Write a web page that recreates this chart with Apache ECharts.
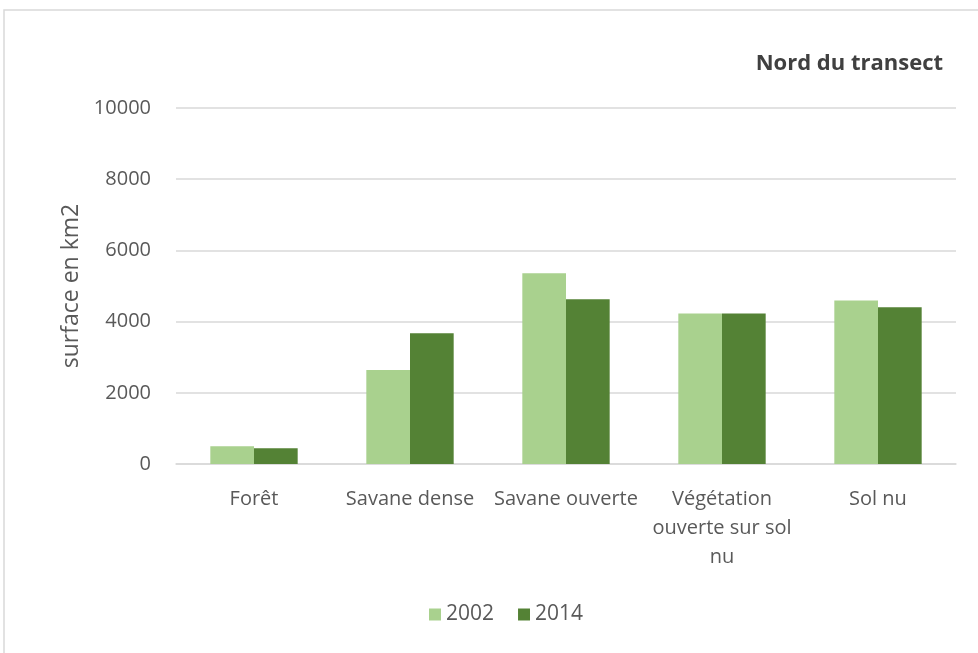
<!DOCTYPE html>
<html>
<head>
<meta charset="utf-8">
<script src="https://cdn.jsdelivr.net/npm/echarts@6/dist/echarts.min.js"></script>
<style>
  html, body { margin: 0; padding: 0; background: #fff; }
  #chart { width: 978px; height: 653px; }
</style>
</head>
<body>
<div id="chart"></div>
<script>
// categories and values (surface en km2)
const categories = ['Forêt', 'Savane dense', 'Savane ouverte', 'Végétation\nouverte sur sol\nnu', 'Sol nu']
const values2002 = [500, 2640, 5360, 4230, 4590]
const values2014 = [440, 3670, 4630, 4230, 4400]
const yTicks = { min: 0, max: 10000, interval: 2000 }

const font = '"Open Sans", "Liberation Sans", sans-serif'
const chart = echarts.init(document.getElementById('chart'))

chart.setOption({
  animation: false,
  textStyle: { fontFamily: font },
  color: ['#A9D18E', '#548235'],
  title: {
    text: 'Nord du transect',
    right: 30,
    top: 48,
    textStyle: { fontSize: 22, fontWeight: 'bold', color: '#404040', fontFamily: font }
  },
  legend: {
    data: ['2002', '2014'],
    left: 424,
    top: 599,
    itemWidth: 12,
    itemHeight: 12,
    itemGap: 24,
    icon: 'rect',
    textStyle: { fontSize: 21, color: '#595959', fontFamily: font }
  },
  grid: { left: 176, right: 22, top: 108, bottom: 189 },
  xAxis: {
    type: 'category',
    data: categories,
    axisTick: { show: false },
    axisLine: { lineStyle: { color: '#d9d9d9', width: 1.5 } },
    axisLabel: {
      interval: 0,
      margin: 21,
      fontSize: 20,
      lineHeight: 29,
      color: '#595959',
      fontFamily: font
    }
  },
  yAxis: {
    type: 'value',
    min: yTicks.min,
    max: yTicks.max,
    interval: yTicks.interval,
    name: 'surface en km2',
    nameLocation: 'middle',
    nameGap: 93,
    nameTextStyle: { fontSize: 23, color: '#595959', fontFamily: font },
    axisLine: { show: false },
    axisTick: { show: false },
    axisLabel: {
      fontSize: 20,
      color: '#595959',
      margin: 25,
      fontFamily: font,
      formatter: v => String(v)
    },
    splitLine: { lineStyle: { color: '#d9d9d9', width: 1.5 } }
  },
  series: [
    {
      name: '2002',
      type: 'bar',
      data: values2002,
      barWidth: '28%',
      barGap: '0%'
    },
    {
      name: '2014',
      type: 'bar',
      data: values2014,
      barWidth: '28%',
      barGap: '0%'
    }
  ],
  graphic: [{
    type: 'rect',
    shape: { x: 4, y: 10, width: 1000, height: 700 },
    style: { fill: 'none', stroke: '#d9d9d9', lineWidth: 1.5 },
    silent: true
  }]
})
</script>
</body>
</html>
